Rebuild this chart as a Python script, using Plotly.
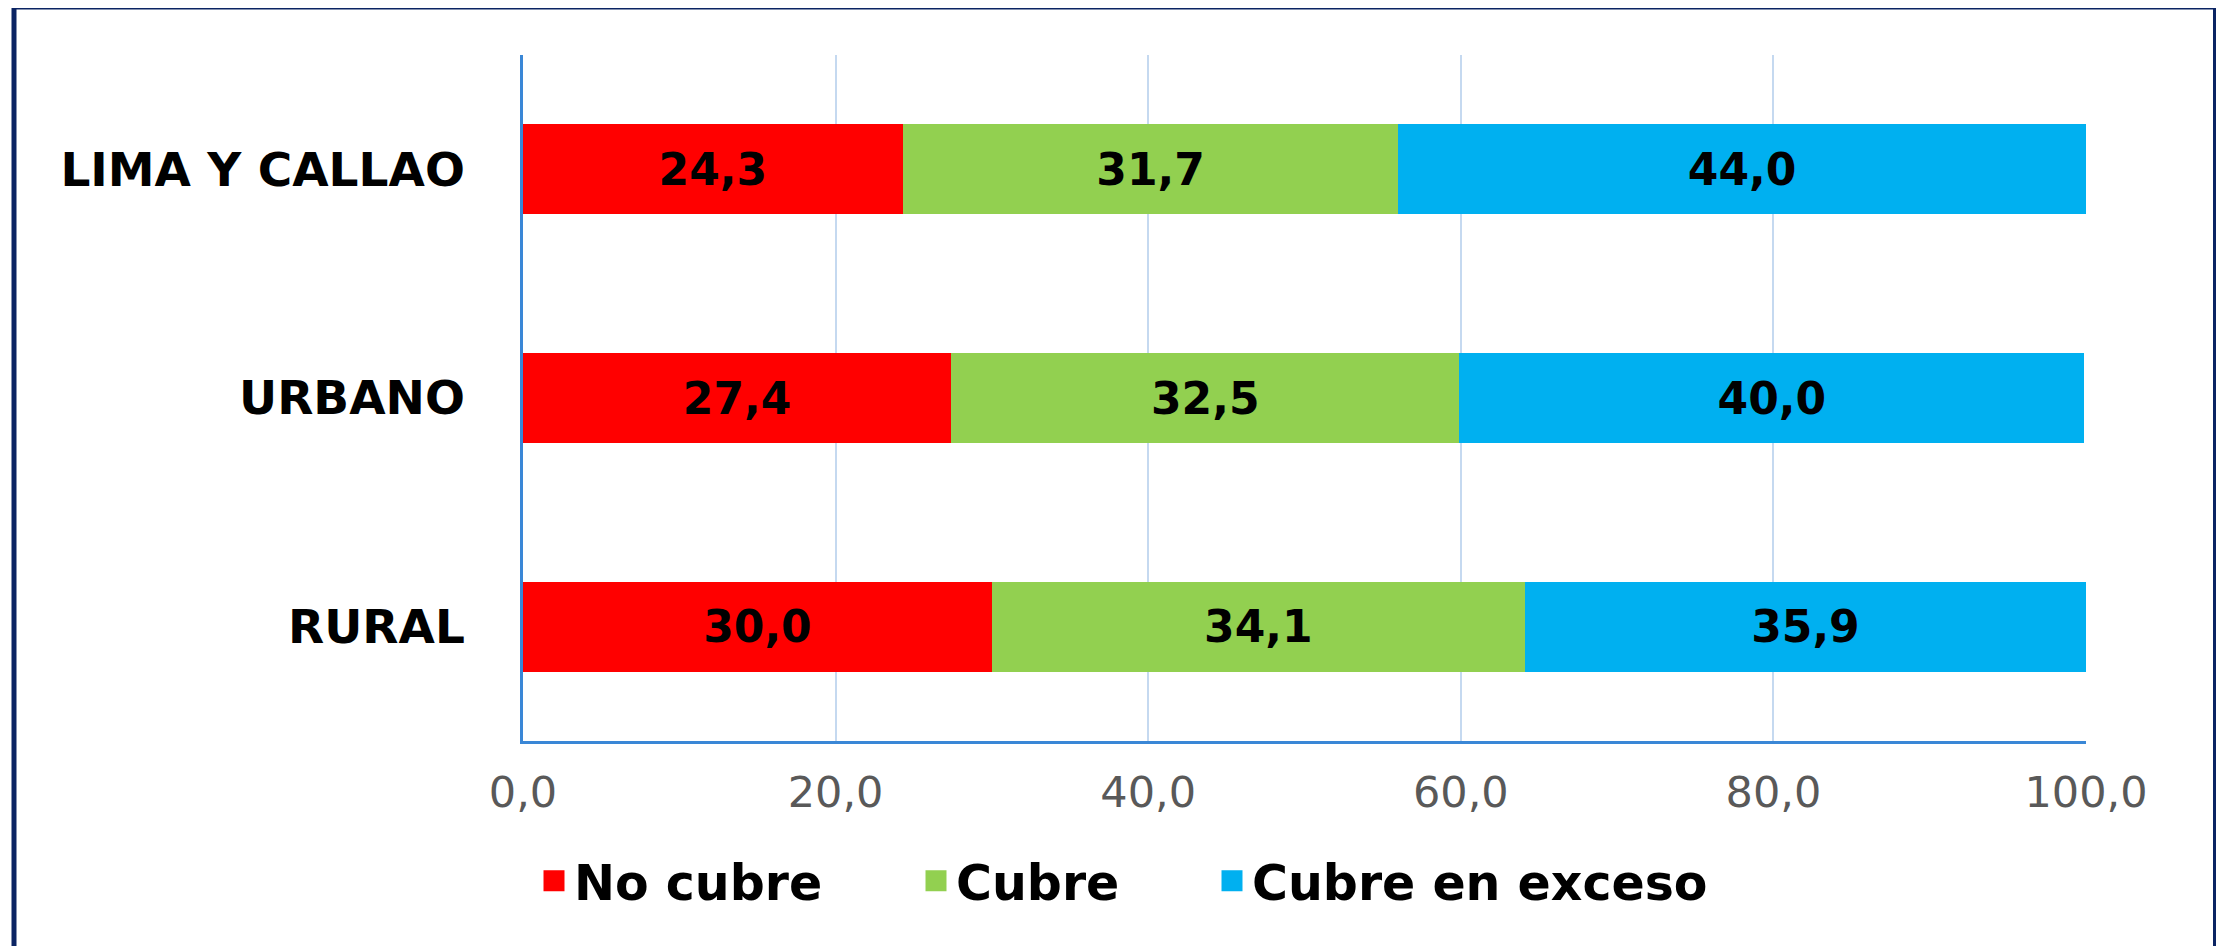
import plotly.graph_objects as go

# ---- data ----
categories = ["LIMA Y CALLAO", "URBANO", "RURAL"]
no_cubre = [24.3, 27.4, 30.0]
cubre = [31.7, 32.5, 34.1]
cubre_exceso = [44.0, 40.0, 35.9]
series_names = ["No cubre", "Cubre", "Cubre en exceso"]
tick_values = [0, 20, 40, 60, 80, 100]

colors = ["#FF0000", "#92D050", "#00B0F0"]
series_values = [no_cubre, cubre, cubre_exceso]

# page body has an 8px default margin; lay out in screen pixels minus it
OFF = 8
W, H = 2224 - OFF, 946 - OFF
PLOT_L, PLOT_R, PLOT_T, PLOT_B = 523, 2086, 55, 741  # screen px
ML = PLOT_L - OFF
MR = W - (PLOT_R - OFF)
MT = PLOT_T - OFF
MB = H - (PLOT_B - OFF)
PW = W - ML - MR
PH = H - MT - MB


def px_to_paper_x(sx):
    return (sx - OFF - ML) / PW


def px_to_paper_y(sy):
    return (H - MB - (sy - OFF)) / PH


fig = go.Figure()

for name, vals, col in zip(series_names, series_values, colors):
    fig.add_trace(go.Bar(
        y=categories, x=vals, orientation="h", name=name,
        marker=dict(color=col, line=dict(width=0)),
        texttemplate="%{x:.1f}", textposition="inside",
        insidetextanchor="middle", textangle=0,
        textfont=dict(family="DejaVu Sans", size=44, color="black", weight="bold"),
        showlegend=False, hoverinfo="skip",
    ))

legend_names = ["legend", "legend2", "legend3"]
for name, col, lg in zip(series_names, colors, legend_names):
    fig.add_trace(go.Scatter(
        x=[None], y=[None], mode="markers", name=name,
        marker=dict(symbol="square", size=16, color=col, line=dict(color=col, width=5)),
        legend=lg, showlegend=True,
    ))

legend_font = dict(family="DejaVu Sans", size=49, color="black", weight="bold")
legend_left_px = [534, 916, 1212]
legend_y = px_to_paper_y(881)
legend_cfgs = {}
for lg, lpx in zip(legend_names, legend_left_px):
    legend_cfgs[lg] = dict(
        x=px_to_paper_x(lpx), xanchor="left", y=legend_y, yanchor="middle",
        orientation="h", font=legend_font, bgcolor="rgba(0,0,0,0)",
        borderwidth=0, itemclick=False, itemdoubleclick=False,
    )

fig.update_layout(
    width=W, height=H,
    margin=dict(l=ML, r=MR, t=MT, b=MB, autoexpand=False),
    paper_bgcolor="white", plot_bgcolor="white",
    barmode="stack", bargap=0.606,
    separators=",.",
    xaxis=dict(
        range=[0, 100], tickvals=tick_values, tickformat=".1f",
        showgrid=True, gridcolor="#C5D9F0", gridwidth=2,
        zeroline=False, showline=True, linecolor="#3A87D6", linewidth=2.5,
        ticks="", ticklabelstandoff=12,
        tickfont=dict(family="DejaVu Sans", size=43, color="#595959"),
        fixedrange=True,
    ),
    yaxis=dict(
        autorange="reversed", showgrid=False, zeroline=False,
        showline=True, linecolor="#3A87D6", linewidth=2.5,
        ticks="", ticklabelstandoff=46,
        tickfont=dict(family="DejaVu Sans", size=47, color="black", weight="bold"),
        fixedrange=True,
    ),
    **legend_cfgs,
    shapes=[dict(
        type="rect", xref="paper", yref="paper",
        x0=px_to_paper_x(14), x1=px_to_paper_x(2215.5),
        y0=px_to_paper_y(7), y1=px_to_paper_y(990),
        line=dict(color="#0B2463", width=5), fillcolor="rgba(0,0,0,0)",
        layer="above",
    )],
)

fig.write_html("out.html")
